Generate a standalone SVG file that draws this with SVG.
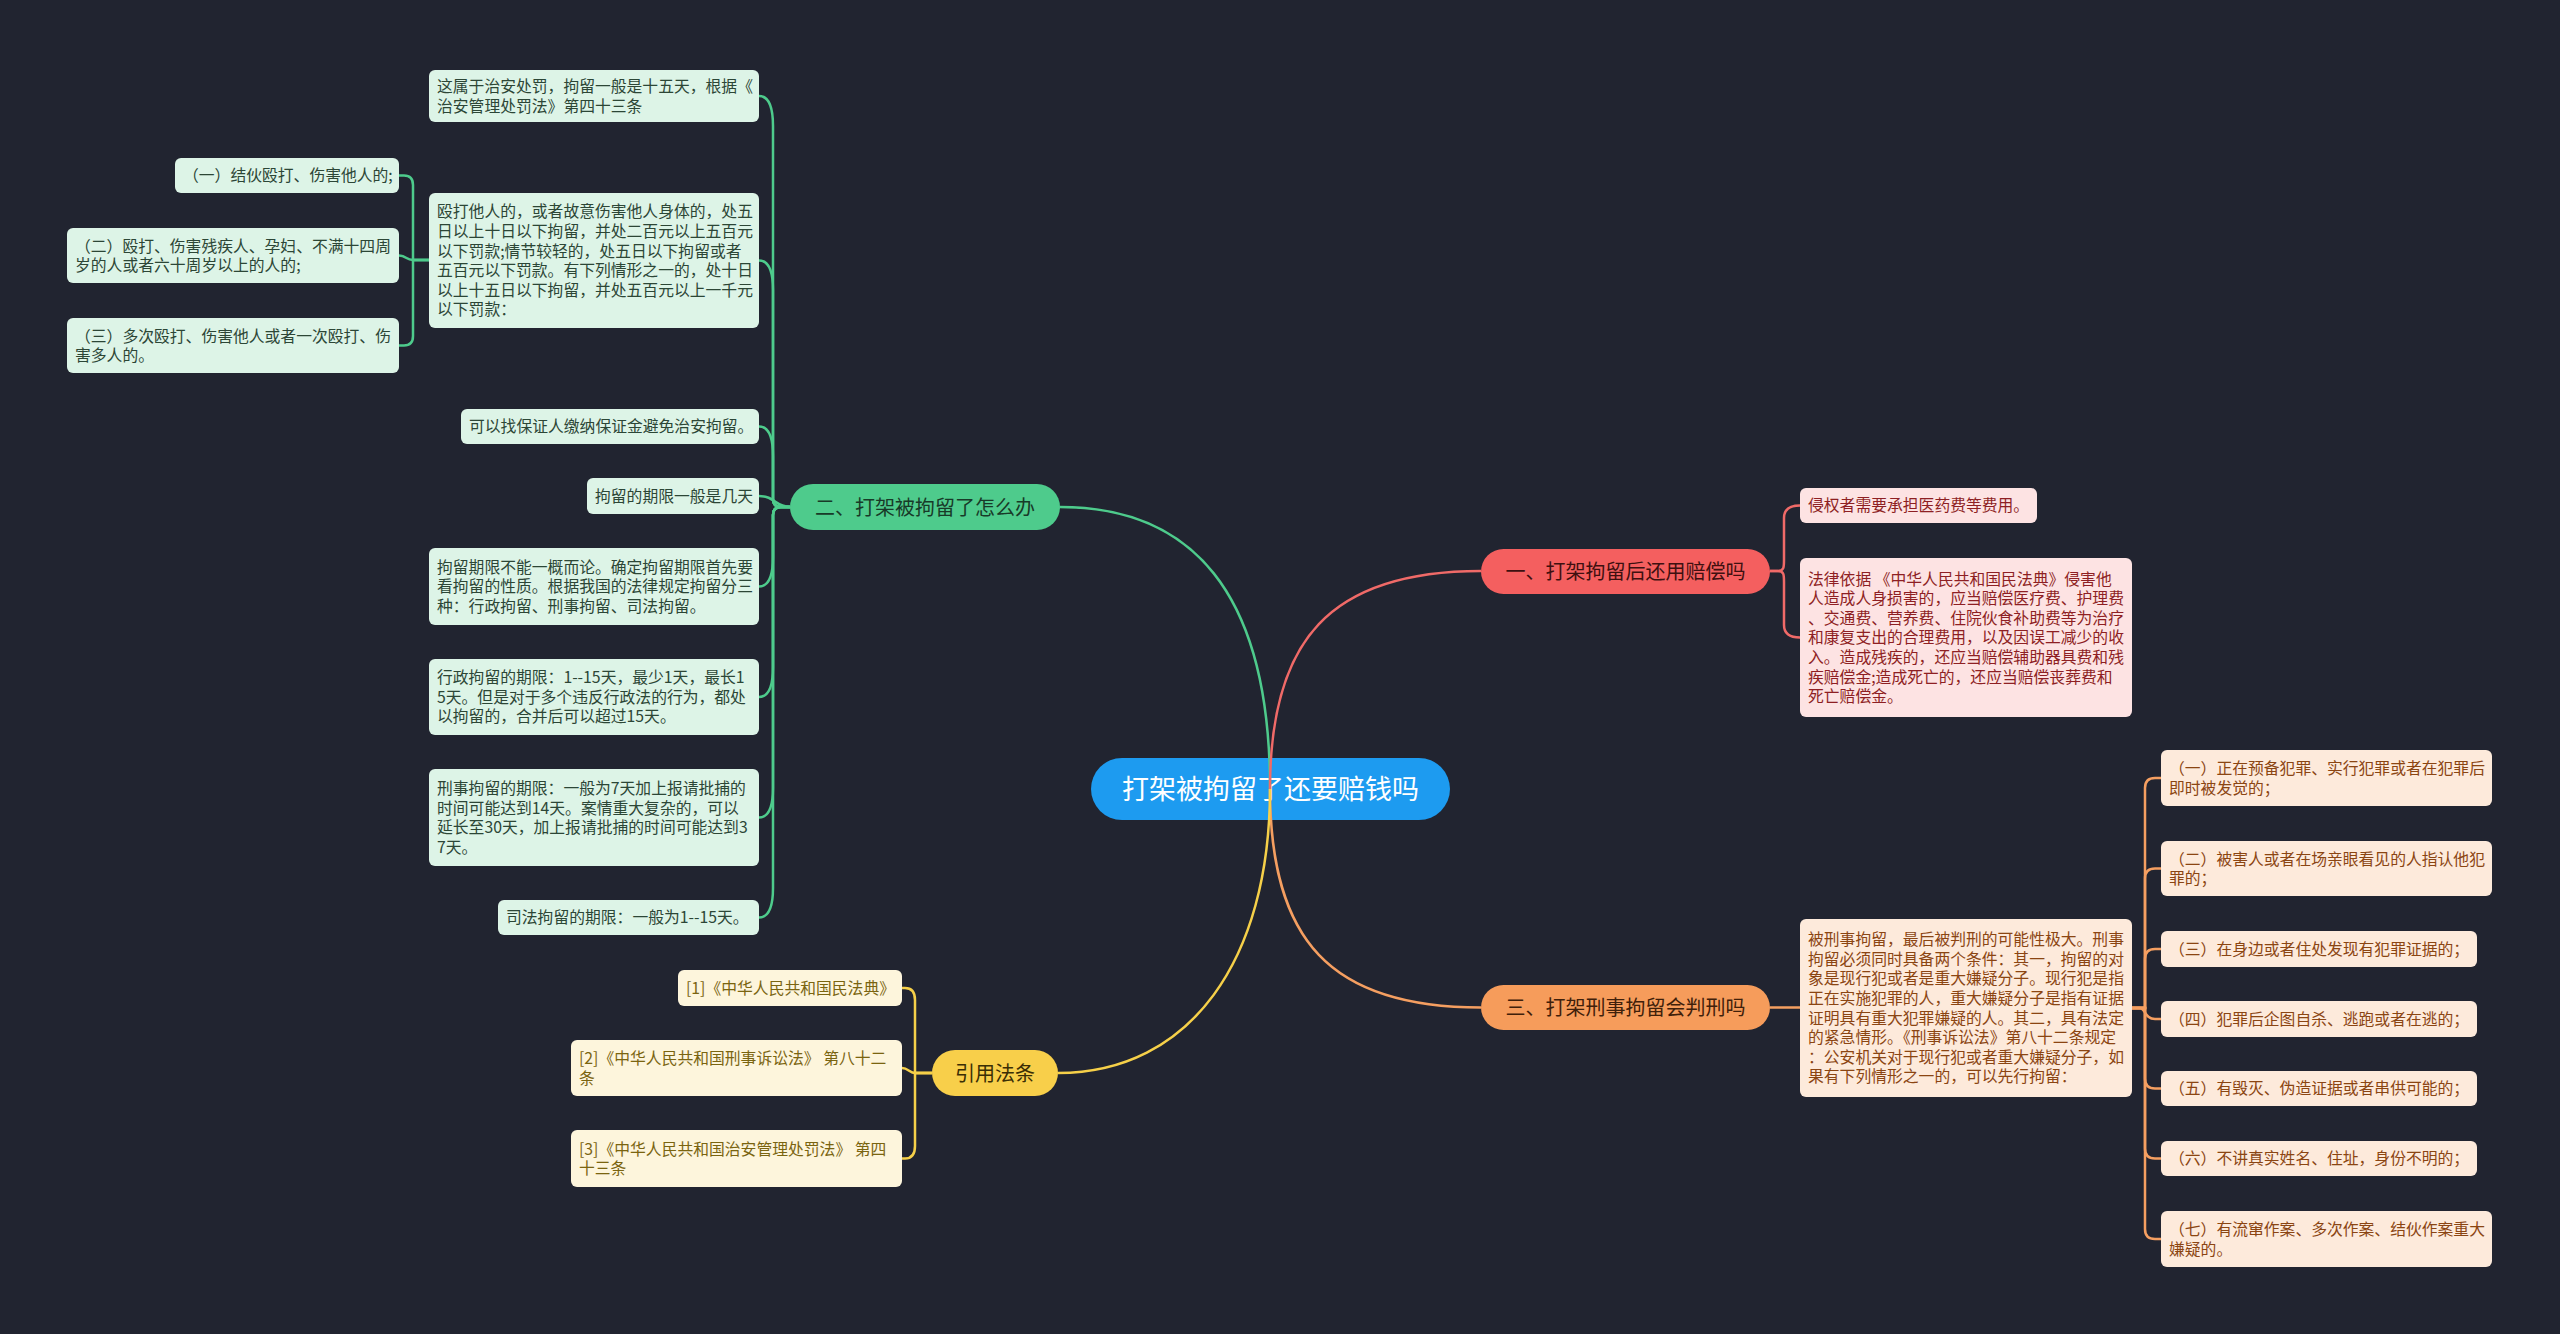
<svg xmlns="http://www.w3.org/2000/svg" width="2560" height="1334" viewBox="0 0 2560 1334">
<style>
text{font-family:"Noto Sans CJK SC","Noto Sans",sans-serif}
.lf{font-size:15.8px}
.br{font-size:20px;text-anchor:middle}
.g rect{fill:#ddf4e7}.g text{fill:#2c4636}
.r rect{fill:#fde3e3}.r text{fill:#8e1f23}
.o rect{fill:#fdeadb}.o text{fill:#8b4512}
.y rect{fill:#fdf5dc}.y text{fill:#7a6410}
.cg{stroke:#4ecb8c}.cr{stroke:#f06a68}.co{stroke:#f59f61}.cy{stroke:#f6d049}
#connectors path{fill:none;stroke-width:2.5}
</style>
<rect x="0" y="0" width="2560" height="1334" fill="#212430"/>

<g id="root"><rect x="1091" y="758" width="359" height="62" rx="31" fill="#1d9bf0"/><text x="1270.5" y="799.3" font-size="27" fill="#ffffff" text-anchor="middle">打架被拘留了还要赔钱吗</text></g>

<g id="b2"><rect x="790" y="484" width="270" height="46" rx="23" fill="#4ecb8c"/><text class="br" x="925" y="514.6" fill="#183a28">二、打架被拘留了怎么办</text></g>
<g id="b1"><rect x="1481" y="549" width="289" height="45" rx="22.5" fill="#f45f5f"/><text class="br" x="1625.5" y="579" fill="#3e1010">一、打架拘留后还用赔偿吗</text></g>
<g id="b3"><rect x="1481" y="985" width="289" height="45" rx="22.5" fill="#f69c5b"/><text class="br" x="1625.5" y="1015" fill="#40200a">三、打架刑事拘留会判刑吗</text></g>
<g id="b4"><rect x="932" y="1050" width="126" height="46" rx="23" fill="#f8cf4a"/><text class="br" x="995" y="1080.6" fill="#3a2e05">引用法条</text></g>

<g class="g lf">
<g id="g1"><rect x="429" y="70" width="330" height="52" rx="6"/><text x="437" y="92">这属于治安处罚，拘留一般是十五天，根据《</text><text x="437" y="111.6">治安管理处罚法》第四十三条</text></g>
<g id="g2"><rect x="429" y="193" width="330" height="135" rx="6"/><text x="437" y="217.3">殴打他人的，或者故意伤害他人身体的，处五</text><text x="437" y="236.9">日以上十日以下拘留，并处二百元以上五百元</text><text x="437" y="256.5">以下罚款;情节较轻的，处五日以下拘留或者</text><text x="437" y="276.1">五百元以下罚款。有下列情形之一的，处十日</text><text x="437" y="295.7">以上十五日以下拘留，并处五百元以上一千元</text><text x="437" y="315.3">以下罚款：</text></g>
<g id="g2a"><rect x="175" y="158" width="224" height="35" rx="6"/><text x="183" y="181.3">（一）结伙殴打、伤害他人的;</text></g>
<g id="g2b"><rect x="67" y="228" width="332" height="55" rx="6"/><text x="75" y="251.5">（二）殴打、伤害残疾人、孕妇、不满十四周</text><text x="75" y="271.1">岁的人或者六十周岁以上的人的;</text></g>
<g id="g2c"><rect x="67" y="318" width="332" height="55" rx="6"/><text x="75" y="341.5">（三）多次殴打、伤害他人或者一次殴打、伤</text><text x="75" y="361.1">害多人的。</text></g>
<g id="g3"><rect x="461" y="409" width="298" height="35" rx="6"/><text x="469" y="432.3">可以找保证人缴纳保证金避免治安拘留。</text></g>
<g id="g4"><rect x="587" y="478" width="172" height="36" rx="6"/><text x="595" y="501.8">拘留的期限一般是几天</text></g>
<g id="g5"><rect x="429" y="548" width="330" height="77" rx="6"/><text x="437" y="572.7">拘留期限不能一概而论。确定拘留期限首先要</text><text x="437" y="592.3">看拘留的性质。根据我国的法律规定拘留分三</text><text x="437" y="611.9">种：行政拘留、刑事拘留、司法拘留。</text></g>
<g id="g6"><rect x="429" y="659" width="330" height="76" rx="6"/><text x="437" y="683.2">行政拘留的期限：1--15天，最少1天，最长1</text><text x="437" y="702.8">5天。但是对于多个违反行政法的行为，都处</text><text x="437" y="722.4">以拘留的，合并后可以超过15天。</text></g>
<g id="g7"><rect x="429" y="769" width="330" height="97" rx="6"/><text x="437" y="793.9">刑事拘留的期限：一般为7天加上报请批捕的</text><text x="437" y="813.5">时间可能达到14天。案情重大复杂的，可以</text><text x="437" y="833.1">延长至30天，加上报请批捕的时间可能达到3</text><text x="437" y="852.7">7天。</text></g>
<g id="g8"><rect x="498" y="900" width="261" height="35" rx="6"/><text x="506" y="923.3">司法拘留的期限：一般为1--15天。</text></g>
</g>

<g class="r lf">
<g id="r1"><rect x="1800" y="488" width="237" height="35" rx="6"/><text x="1808" y="511.3">侵权者需要承担医药费等费用。</text></g>
<g id="r2"><rect x="1800" y="558" width="332" height="159" rx="6"/><text x="1808" y="584.5">法律依据 《中华人民共和国民法典》侵害他</text><text x="1808" y="604.1">人造成人身损害的，应当赔偿医疗费、护理费</text><text x="1808" y="623.7">、交通费、营养费、住院伙食补助费等为治疗</text><text x="1808" y="643.3">和康复支出的合理费用，以及因误工减少的收</text><text x="1808" y="662.9">入。造成残疾的，还应当赔偿辅助器具费和残</text><text x="1808" y="682.5">疾赔偿金;造成死亡的，还应当赔偿丧葬费和</text><text x="1808" y="702.1">死亡赔偿金。</text></g>
</g>

<g class="o lf">
<g id="o1"><rect x="1800" y="919" width="332" height="178" rx="6"/><text x="1808" y="945.2">被刑事拘留，最后被判刑的可能性极大。刑事</text><text x="1808" y="964.8">拘留必须同时具备两个条件：其一，拘留的对</text><text x="1808" y="984.4">象是现行犯或者是重大嫌疑分子。现行犯是指</text><text x="1808" y="1004">正在实施犯罪的人，重大嫌疑分子是指有证据</text><text x="1808" y="1023.6">证明具有重大犯罪嫌疑的人。其二，具有法定</text><text x="1808" y="1043.2">的紧急情形。《刑事诉讼法》第八十二条规定</text><text x="1808" y="1062.8">：公安机关对于现行犯或者重大嫌疑分子，如</text><text x="1808" y="1082.4">果有下列情形之一的，可以先行拘留：</text></g>
<g id="oa"><rect x="2161" y="750" width="331" height="56" rx="6"/><text x="2169" y="774">（一）正在预备犯罪、实行犯罪或者在犯罪后</text><text x="2169" y="793.6">即时被发觉的；</text></g>
<g id="ob"><rect x="2161" y="841" width="331" height="55" rx="6"/><text x="2169" y="864.5">（二）被害人或者在场亲眼看见的人指认他犯</text><text x="2169" y="884.1">罪的；</text></g>
<g id="oc"><rect x="2161" y="931" width="316" height="36" rx="6"/><text x="2169" y="954.8">（三）在身边或者住处发现有犯罪证据的；</text></g>
<g id="od"><rect x="2161" y="1001" width="316" height="36" rx="6"/><text x="2169" y="1024.8">（四）犯罪后企图自杀、逃跑或者在逃的；</text></g>
<g id="oe"><rect x="2161" y="1071" width="316" height="35" rx="6"/><text x="2169" y="1094.3">（五）有毁灭、伪造证据或者串供可能的；</text></g>
<g id="of"><rect x="2161" y="1141" width="316" height="35" rx="6"/><text x="2169" y="1164.3">（六）不讲真实姓名、住址，身份不明的；</text></g>
<g id="og"><rect x="2161" y="1211" width="331" height="56" rx="6"/><text x="2169" y="1235">（七）有流窜作案、多次作案、结伙作案重大</text><text x="2169" y="1254.6">嫌疑的。</text></g>
</g>

<g class="y lf">
<g id="y1"><rect x="678" y="970" width="224" height="36" rx="6"/><text x="686" y="993.8">[1]《中华人民共和国民法典》</text></g>
<g id="y2"><rect x="571" y="1040" width="331" height="56" rx="6"/><text x="579" y="1064">[2]《中华人民共和国刑事诉讼法》 第八十二</text><text x="579" y="1083.6">条</text></g>
<g id="y3"><rect x="571" y="1130" width="331" height="57" rx="6"/><text x="579" y="1154.5">[3]《中华人民共和国治安管理处罚法》 第四</text><text x="579" y="1174.1">十三条</text></g>
</g>

<g id="connectors">
<path class="cg" d="M1270,789 C1270,590 1190,507 1060,507"/>
<path class="cr" d="M1270,789 C1270,640 1330,571 1481,571"/>
<path class="co" d="M1270,789 C1270,940 1330,1007.5 1481,1007.5"/>
<path class="cy" d="M1270,789 C1270,960 1190,1073 1058,1073"/>

<path class="cg" d="M790,507 H781 Q773,507 773,499 V126 C773,106 768,96 759,96"/>
<path class="cg" d="M790,507 H781 Q773,507 773,499 V290 C773,270 768,260.5 759,260.5"/>
<path class="cg" d="M790,507 H781 Q773,507 773,499 V456 C773,436 768,426.5 759,426.5"/>
<path class="cg" d="M790,507 C775,507 775,496 759,496"/>
<path class="cg" d="M790,507 H781 Q773,507 773,515 V557 C773,577 768,586.5 759,586.5"/>
<path class="cg" d="M790,507 H781 Q773,507 773,515 V667 C773,687 768,697 759,697"/>
<path class="cg" d="M790,507 H781 Q773,507 773,515 V788 C773,808 768,817.5 759,817.5"/>
<path class="cg" d="M790,507 H781 Q773,507 773,515 V888 C773,908 768,917.5 759,917.5"/>

<path class="cg" d="M429,260 H413 V185 Q413,175.5 404,175.5 H399"/>
<path class="cg" d="M429,260 H413 C406,260 406,255.5 399,255.5"/>
<path class="cg" d="M429,260 H413 V336 Q413,345.5 404,345.5 H399"/>

<path class="cr" d="M1770,571 H1778 C1784,571 1784,567 1784,560 V518 C1784,509 1790,505.5 1800,505.5"/>
<path class="cr" d="M1770,571 H1778 C1784,571 1784,575 1784,582 V625 C1784,634 1790,637.5 1800,637.5"/>

<path class="co" d="M1770,1007.5 H1800"/>
<path class="co" d="M2132,1008 H2145 V788 Q2145,778 2155,778 H2161"/>
<path class="co" d="M2132,1008 H2145 V878.5 Q2145,868.5 2155,868.5 H2161"/>
<path class="co" d="M2132,1008 H2145 V959 Q2145,949 2155,949 H2161"/>
<path class="co" d="M2132,1008 H2140 C2145,1008 2145,1019 2155,1019 H2161"/>
<path class="co" d="M2132,1008 H2145 V1078.5 Q2145,1088.5 2155,1088.5 H2161"/>
<path class="co" d="M2132,1008 H2145 V1148.5 Q2145,1158.5 2155,1158.5 H2161"/>
<path class="co" d="M2132,1008 H2145 V1229 Q2145,1239 2155,1239 H2161"/>

<path class="cy" d="M932,1073 H915 V1000 Q915,988 905,988 H902"/>
<path class="cy" d="M932,1073 H915 C910,1073 908,1068 902,1068"/>
<path class="cy" d="M932,1073 H915 V1146 Q915,1158.5 905,1158.5 H902"/>
</g>
</svg>
